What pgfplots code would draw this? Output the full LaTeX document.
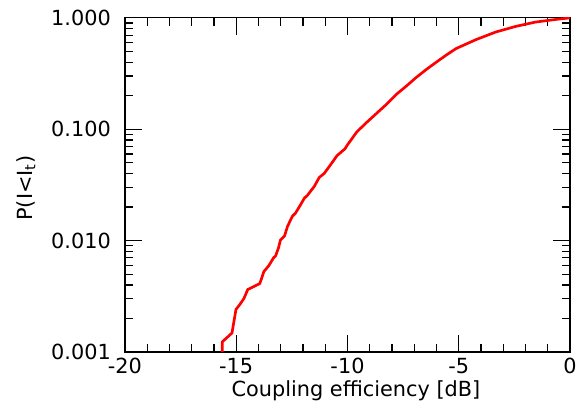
\documentclass[border=0pt]{standalone}
\usepackage{pgfplots}
\pgfplotsset{compat=1.18}
\usepackage{fontspec}
\setmainfont{DejaVu Sans}
\begin{document}
\begin{tikzpicture}
\begin{axis}[
 name=ax,
 scale only axis,
 width=449bp, height=337bp,
 xmin=-20, xmax=0,
 ymode=log, ymin=0.001, ymax=1,
 xtick={-20,-15,-10,-5,0},
 xticklabels={-20,-15,-10,-5,0},
 minor x tick num=4,
 ytick={0.001,0.01,0.1,1},
 yticklabels={0.001,0.010,0.100,1.000},
 tick align=inside,
 major tick length=17bp,
 minor tick length=8bp,
 axis line style={line width=1.2bp},
 tick style={black, line width=1.2bp},
 tick label style={font=\fontsize{21bp}{25bp}\selectfont},
 label style={font=\fontsize{21bp}{25bp}\selectfont},
 xticklabel style={inner sep=0pt, anchor=north, yshift=-6bp},
 yticklabel style={inner sep=0pt, anchor=east, xshift=-14bp},
 xlabel={Coupling efficiency [dB]},
 ylabel={P(I<I\textsubscript{t})},
 xlabel style={at={(axis description cs:0.519,0)}, anchor=base, yshift=-45bp},
 ylabel style={at={(axis description cs:0,0.49)}, anchor=center, yshift=100bp},
 clip=true,
]
\addplot[red, line width=2.7bp, line join=round] coordinates {
(-15.63,0.001) (-15.63,0.00123) (-15.19,0.00148) (-15.01,0.00241) (-14.83,0.00268)
(-14.65,0.00303) (-14.48,0.00364) (-13.94,0.00411) (-13.76,0.00526) (-13.54,0.00594)
(-13.32,0.00701) (-13.23,0.00730) (-13.10,0.00860) (-13.01,0.01014) (-12.83,0.0110)
(-12.69,0.0135) (-12.47,0.0166) (-12.34,0.0176) (-12.12,0.0208) (-11.94,0.0240)
(-11.80,0.0255) (-11.49,0.0307) (-11.27,0.0369) (-11.05,0.0400) (-10.82,0.0462)
(-10.47,0.0579) (-10.11,0.0668) (-10.02,0.0715) (-9.58,0.0947) (-9.13,0.1155)
(-8.24,0.168) (-7.80,0.206) (-7.35,0.2446) (-6.90,0.293) (-6.45,0.345) (-6.01,0.400)
(-5.55,0.465) (-5.12,0.530) (-4.23,0.637) (-3.34,0.746) (-2.45,0.837) (-1.56,0.916)
(-0.67,0.966) (0,1.0)
};
\end{axis}
\pgfresetboundingbox
\path[use as bounding box] ([xshift=-126bp,yshift=-51bp]ax.south west) rectangle ([xshift=8bp,yshift=18bp]ax.north east);
\end{tikzpicture}
\end{document}
